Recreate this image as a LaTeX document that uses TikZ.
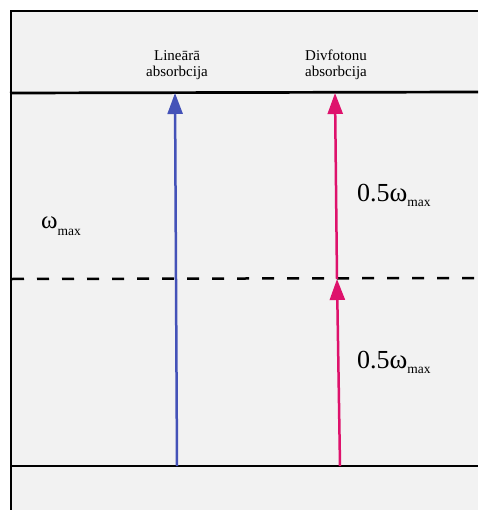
\documentclass[tikz,border=0pt]{standalone}
\usepackage{fontspec}
\setmainfont{Liberation Serif}
\usetikzlibrary{arrows.meta}
\definecolor{absblue}{RGB}{68,82,184}
\definecolor{abspink}{RGB}{222,18,108}
\definecolor{bggray}{RGB}{242,242,242}
% omega ar apakšindeksu
\newcommand{\omax}[2]{{\fontsize{#1}{#1}\selectfont ω}\raisebox{-#2}{\fontsize{13.5}{13.5}\selectfont max}}
\begin{document}
\begin{tikzpicture}[x=1pt,y=-1pt,
    level/.style={line width=2.7pt},
    photon/.style={line width=2.5pt,-{Triangle[width=15pt,length=21pt]}},
    caption/.style={font=\fontsize{15}{16}\selectfont,align=center,anchor=base,inner sep=0pt},
    freq/.style={anchor=base west,inner sep=0pt}]
    \useasboundingbox (0,0) rectangle (478,510);
    %Fons un rāmis
    \fill[bggray] (10,10) rectangle (478,510);
    \draw[line width=2pt] (11,510) -- (11,11) -- (478,11);
    %Enerģijas līmeņi
    \coordinate (topL) at (10,93);   \coordinate (topR) at (478,92);
    \coordinate (midL) at (12,279);  \coordinate (midR) at (478,278);
    \coordinate (lowL) at (10,466);  \coordinate (lowR) at (478,466);
    \draw[level] (topL) -- (topR);
    \draw[line width=2.5pt,dash pattern=on 12pt off 13pt] (midL) -- (midR);
    \draw[level] (lowL) -- (lowR);
    %Lineārā absorbcija
    \coordinate (lin0) at (177,466);
    \coordinate (lin1) at (175,93);
    \draw[photon,absblue] (lin0) -- (lin1);
    \node[caption] (lincap) at (177,77) {Lineārā\\absorbcija};
    %Divfotonu absorbcija
    \coordinate (two0) at (340,466);
    \coordinate (two1) at (337,279);
    \coordinate (two2) at (335,93);
    \draw[photon,abspink] (two0) -- (two1);
    \draw[photon,abspink] (two1) -- (two2);
    \node[caption] (twocap) at (336,77) {Divfotonu\\absorbcija};
    %Frekvences
    \node[freq] (wmax) at (41,229) {\omax{25}{7pt}};
    \node[freq] (whalfa) at (357,202) {{\fontsize{26}{26}\selectfont 0.5}\omax{27}{5pt}};
    \node[freq] (whalfb) at (357,368) {{\fontsize{26}{26}\selectfont 0.5}\omax{27}{5pt}};
\end{tikzpicture}
\end{document}
